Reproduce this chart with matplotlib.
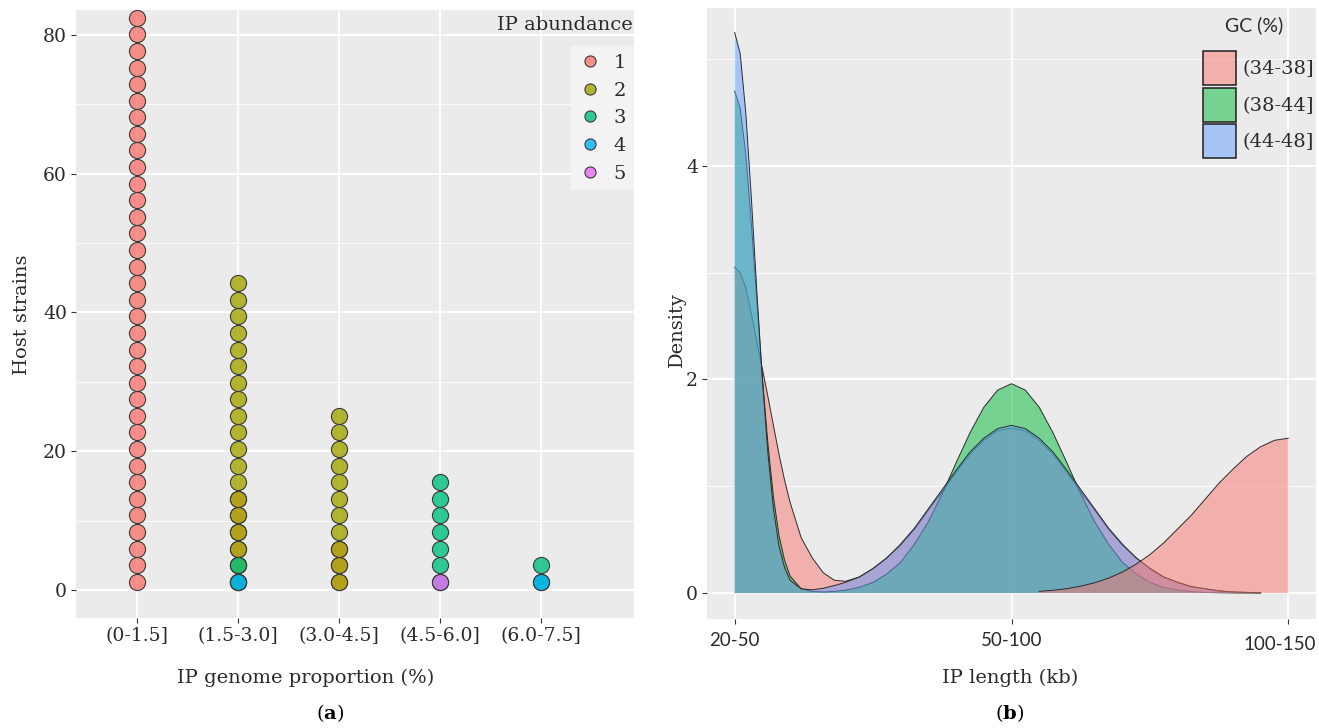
import numpy as np
import matplotlib
matplotlib.use('Agg')
import matplotlib.pyplot as plt
from matplotlib.lines import Line2D
from matplotlib.patches import Patch
from matplotlib.colors import to_rgba
from matplotlib.transforms import ScaledTranslation

# ---------------- panel (a): dot plot ----------------
proportion_bins = ['(0-1.5]', '(1.5-3.0]', '(3.0-4.5]', '(4.5-6.0]', '(6.0-7.5]']
abundance_levels = ['1', '2', '3', '4', '5']
# number of dots of each IP abundance level in every bin
# (each level is stacked from the bottom, so levels overlap)
abund_1 = [35, 6, 3, 0, 0]
abund_2 = [0, 19, 11, 0, 0]
abund_3 = [0, 2, 0, 7, 2]
abund_4 = [0, 1, 0, 0, 1]
abund_5 = [0, 0, 0, 1, 0]
host_ticks = [0, 20, 40, 60, 80]

# ---------------- panel (b): density plot ----------------
length_labels = ['20-50', '50-100', '100-150']
gc_groups = ['(34-38]', '(38-44]', '(44-48]']
length_pos = [1.00, 1.02, 1.04, 1.06, 1.08, 1.10, 1.12, 1.14, 1.16, 1.18, 1.20,
              1.24, 1.28, 1.32, 1.36, 1.40,
              1.45, 1.50, 1.55, 1.60, 1.65, 1.70, 1.75, 1.80, 1.85, 1.90, 1.95,
              2.00, 2.05, 2.10, 2.15, 2.20, 2.25, 2.30, 2.35, 2.40, 2.45, 2.50,
              2.55, 2.60, 2.65, 2.70, 2.75, 2.80, 2.85, 2.90]
dens_34_38 = [3.05, 3.00, 2.86, 2.62, 2.35, 2.10, 1.84, 1.57, 1.30, 1.06, 0.85,
              0.52, 0.33, 0.19, 0.12, 0.11,
              0.15, 0.23, 0.33, 0.45, 0.60, 0.78, 0.95, 1.13, 1.30, 1.43, 1.52,
              1.545, 1.52, 1.43, 1.30, 1.13, 0.95, 0.78, 0.60, 0.45, 0.33, 0.23,
              0.15, 0.10, 0.06, 0.04, 0.02, 0.01, 0.006, 0.003]
dens_38_44 = [4.70, 4.54, 4.11, 3.47, 2.74, 2.02, 1.40, 0.90, 0.54, 0.31, 0.16,
              0.04, 0.015, 0.01, 0.015, 0.027,
              0.054, 0.10, 0.18, 0.29, 0.46, 0.67, 0.93, 1.22, 1.50, 1.74, 1.90,
              1.96, 1.90, 1.74, 1.50, 1.22, 0.93, 0.67, 0.46, 0.29, 0.18, 0.10,
              0.054, 0.027, 0.013, 0.006, 0.003, 0.001, 0.0, 0.0]
dens_44_48 = [5.25, 5.05, 4.50, 3.71, 2.83, 2.00, 1.31, 0.79, 0.44, 0.24, 0.12,
              0.04, 0.03, 0.045, 0.07, 0.10,
              0.15, 0.23, 0.33, 0.46, 0.61, 0.79, 0.97, 1.15, 1.32, 1.45, 1.54,
              1.57, 1.54, 1.45, 1.32, 1.15, 0.97, 0.79, 0.61, 0.46, 0.33, 0.23,
              0.15, 0.10, 0.06, 0.04, 0.02, 0.01, 0.006, 0.003]
# second (34-38] curve, the long IPs near 100-150 kb
length_pos_long = [2.10, 2.15, 2.20, 2.25, 2.30, 2.35, 2.40, 2.45, 2.50, 2.55,
                   2.60, 2.65, 2.70, 2.75, 2.80, 2.85, 2.90, 2.95, 3.00]
dens_34_38_long = [0.016, 0.026, 0.041, 0.064, 0.096, 0.139, 0.196, 0.27, 0.36,
                   0.47, 0.60, 0.73, 0.88, 1.03, 1.16, 1.28, 1.37, 1.43, 1.45]
density_ticks = [0, 2, 4]

# ---------------- style ----------------
W, H = 1319, 728
SERIF = 'DejaVu Serif'
SANS = 'Lato'
PANEL = '#EBEBEB'
TXT = '#2a2a2a'
hue5 = ['#F8766D', '#A3A500', '#00BF7D', '#00B0F6', '#E76BF3']
hue3 = ['#F8766D', '#00BA38', '#619CFF']


def gg_axes(ax):
    ax.set_facecolor(PANEL)
    for s in ax.spines.values():
        s.set_visible(False)
    ax.grid(True, which='major', color='white', lw=1.3, zorder=0)
    ax.grid(True, which='minor', color='white', lw=0.6, zorder=0)
    ax.set_axisbelow(True)
    ax.tick_params(which='major', length=3.5, width=0.8, color='#333333',
                   labelcolor=TXT, labelsize=13.5, pad=3)
    ax.tick_params(which='minor', length=0)


fig = plt.figure(figsize=(W / 100, H / 100), dpi=100)

# ---- (a)
ax1 = fig.add_axes([76 / W, 1 - 618 / H, (634 - 76) / W, (618 - 10) / H])
gg_axes(ax1)
ax1.set_xlim(0.396, 5.92)
ax1.set_ylim(-4.03, 83.57)
xs = np.arange(1, len(proportion_bins) + 1)
dot_step = 2.39
levels = [abund_1, abund_2, abund_3, abund_4, abund_5]
for counts, col in zip(levels, hue5):
    for xi, n in zip(xs, counts):
        if n == 0:
            continue
        ys = (np.arange(n) + 0.5) * dot_step
        ax1.scatter(np.full(n, xi), ys, s=135, facecolor=to_rgba(col, 0.8),
                    edgecolor='#3a3a3a', linewidth=0.8, zorder=3)
ax1.set_xticks(xs)
ax1.set_xticklabels(proportion_bins, fontfamily=SERIF)
ax1.set_yticks(host_ticks)
ax1.set_yticklabels([str(t) for t in host_ticks], fontfamily=SERIF)
ax1.set_yticks([10, 30, 50, 70], minor=True)

handles = [Line2D([], [], ls='none', marker='o', markersize=8,
                  markerfacecolor=to_rgba(c, 0.8), markeredgecolor='#3a3a3a',
                  markeredgewidth=0.8) for c in hue5]
leg1 = ax1.legend(handles, abundance_levels, loc='upper right',
                  bbox_to_anchor=(1.0, (618 - 46) / 608), borderaxespad=0,
                  frameon=True, facecolor='#F3F3F3', edgecolor='none',
                  framealpha=1, fancybox=False, prop={'family': SERIF, 'size': 14},
                  labelspacing=0.5, handletextpad=0.6, borderpad=0.4,
                  handlelength=1.2)
for t in leg1.get_texts():
    t.set_color(TXT)
ax1.text(0.997, (618 - 25) / 608, 'IP abundance', transform=ax1.transAxes,
         ha='right', va='center', fontsize=14, family=SERIF, color=TXT)

# ---- (b)
ax2 = fig.add_axes([707 / W, 1 - 619 / H, (1316 - 707) / W, (619 - 8) / H])
gg_axes(ax2)
ax2.set_xlim(0.9, 3.1)
ax2.set_ylim(-0.243, 5.478)
curves = [(length_pos, dens_34_38, hue3[0]),
          (length_pos, dens_38_44, hue3[1]),
          (length_pos, dens_44_48, hue3[2]),
          (length_pos_long, dens_34_38_long, hue3[0])]
for i, (x, y, col) in enumerate(curves):
    ax2.fill_between(x, 0, y, facecolor=to_rgba(col, 0.5), edgecolor='none',
                     zorder=2 + i)
    ax2.plot(x, y, color='#2b2b2b', lw=0.7, zorder=2 + i)
ax2.set_xticks([1, 2, 3])
ax2.set_xticklabels(length_labels, fontfamily=SANS)
ax2.set_yticks(density_ticks)
ax2.set_yticklabels([str(t) for t in density_ticks], fontfamily=SERIF)
ax2.set_yticks([1, 3, 5], minor=True)
ax2.tick_params(axis='x', pad=6)
# last x label sits a little to the left of its tick, as in the reference
last = ax2.get_xticklabels()[-1]
last.set_transform(last.get_transform() +
                   ScaledTranslation(-0.09, -0.04, fig.dpi_scale_trans))

patches = [Patch(facecolor=to_rgba(c, 0.5), edgecolor='#1e1e1e', linewidth=1.1)
           for c in hue3]
leg2 = ax2.legend(patches, gc_groups, loc='upper right',
                  bbox_to_anchor=(1.0, (619 - 49) / 611), borderaxespad=0,
                  borderpad=0.1, frameon=False,
                  prop={'family': SERIF, 'size': 14}, handlelength=1.7,
                  handleheight=2.3, labelspacing=0.15, handletextpad=0.35)
for t in leg2.get_texts():
    t.set_color(TXT)
ax2.text(1254 / W, 1 - 25 / H, 'GC (%)', transform=fig.transFigure, ha='center',
         va='center', fontsize=14, family=SANS, color=TXT)

# ---- axis titles and captions
fig.text(22 / W, 1 - 315 / H, 'Host strains', rotation=90, ha='center', va='center',
         fontsize=14, family=SERIF, color=TXT)
fig.text(306 / W, 1 - 678 / H, 'IP genome proportion (%)', ha='center', va='center',
         fontsize=14, family=SERIF, color=TXT)
fig.text(677 / W, 1 - 330 / H, 'Density', rotation=90, ha='center', va='center',
         fontsize=14, family=SERIF, color=TXT)
fig.text(1010 / W, 1 - 678 / H, 'IP length (kb)', ha='center', va='center',
         fontsize=14, family=SERIF, color=TXT)
plt.rcParams['mathtext.fontset'] = 'dejavuserif'
fig.text(330 / W, 1 - 713 / H, r'($\mathbf{a}$)', ha='center', va='center',
         fontsize=14, family=SERIF, color='black')
fig.text(1010 / W, 1 - 713 / H, r'($\mathbf{b}$)', ha='center', va='center',
         fontsize=14, family=SERIF, color='black')

fig.savefig('out.png', dpi=100)
